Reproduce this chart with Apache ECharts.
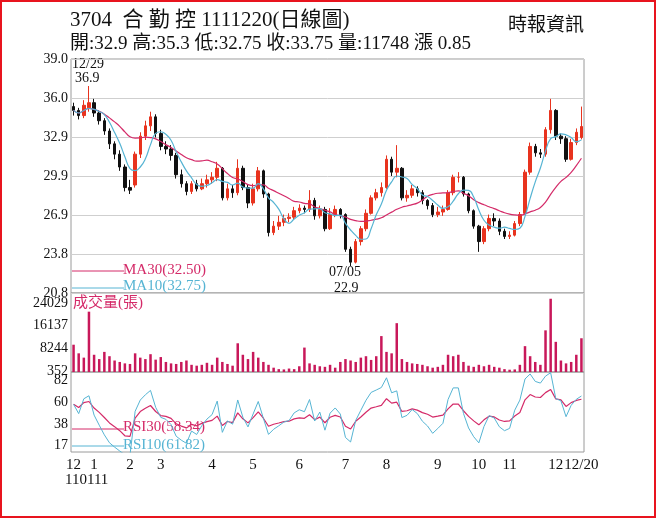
<!DOCTYPE html>
<html>
<head>
<meta charset="utf-8">
<script src="https://cdn.jsdelivr.net/npm/echarts@6/dist/echarts.min.js"></script>
<style>
  html, body { margin: 0; padding: 0; background: #fff; }
  #main { width: 652px; height: 514px; border: 2px solid #e8141e; }
</style>
</head>
<body>
<div id="main"></div>
<script>
// 日K 資料 (open, close, low, high)
var opens = [35.3,35.0,34.6,35.2,35.6,34.8,34.2,33.4,32.4,31.6,
  30.6,29.0,29.2,31.6,33.0,33.8,34.5,33.2,32.2,32.0,
  31.5,30.0,29.3,28.7,29.3,28.9,29.3,29.6,29.8,30.5,
  28.2,28.9,28.6,30.5,29.0,27.8,28.9,30.3,28.5,25.5,
  26.0,26.3,26.6,26.7,27.2,27.4,27.3,28.0,26.8,27.3,
  25.8,26.9,27.3,26.9,24.2,23.2,24.8,25.8,27.0,28.2,
  28.6,29.0,31.2,30.2,30.5,28.2,28.4,28.9,28.6,28.0,
  27.6,26.9,27.1,27.3,28.6,29.8,29.8,28.5,27.2,26.0,
  24.8,25.8,26.6,26.4,25.6,25.2,25.3,26.2,27.0,30.2,
  32.2,31.7,31.6,33.5,35.0,33.0,32.8,31.2,32.5,32.9]
var closes = [35.0,34.6,35.4,35.6,34.8,34.2,33.4,32.4,31.6,30.6,
  29.0,28.8,31.6,33.0,33.8,34.5,33.2,32.2,32.0,31.5,
  30.0,29.3,28.7,29.3,28.9,29.3,29.6,29.8,30.5,28.2,
  28.9,28.6,30.5,29.0,27.8,28.9,30.3,28.5,25.5,26.0,
  26.3,26.6,26.7,27.2,27.4,27.3,28.0,26.8,27.3,25.8,
  26.9,27.3,26.9,24.2,23.2,24.8,25.8,27.0,28.2,28.6,
  29.0,31.2,30.2,30.5,28.2,28.4,28.9,28.6,28.0,27.6,
  26.9,27.1,27.3,28.6,29.8,29.8,28.5,27.2,26.0,24.8,
  25.8,26.6,26.4,25.6,25.2,25.3,26.2,26.9,30.2,32.2,
  31.7,31.6,33.5,35.0,33.0,32.8,31.2,32.5,33.3,33.75]
var lows = [34.6,34.3,34.4,34.9,34.5,33.9,33.1,32.0,31.2,30.3,
  28.7,28.5,29.0,31.3,32.7,33.4,32.9,31.9,31.6,31.1,
  29.7,29.0,28.4,28.5,28.7,28.8,29.0,29.3,29.5,28.0,
  28.0,28.2,28.4,28.8,27.4,27.6,28.7,28.2,25.2,25.3,
  25.7,26.0,26.3,26.5,27.0,27.0,27.1,26.5,26.6,25.6,
  25.7,26.7,26.6,24.0,22.9,23.1,24.5,25.6,26.9,28.0,
  28.3,28.9,29.9,29.8,28.0,27.9,28.2,28.3,27.7,27.3,
  26.7,26.7,26.8,27.2,28.4,29.4,28.3,27.0,25.8,24.0,
  24.6,25.6,26.0,25.3,25.0,25.0,25.2,26.0,26.9,30.0,
  31.4,31.3,31.4,33.2,32.7,32.4,31.0,31.1,32.3,32.75]
var highs = [35.6,35.2,35.8,36.9,35.9,35.0,34.4,33.6,32.6,31.9,
  30.8,29.6,31.8,33.3,34.2,34.9,34.7,33.5,32.6,32.3,
  31.7,30.4,29.5,29.5,29.6,29.7,30.0,30.2,31.0,30.6,
  29.3,29.2,31.2,30.7,29.2,29.3,30.6,30.4,28.6,26.4,
  26.8,26.9,27.0,27.5,27.7,27.6,28.8,28.2,27.6,27.5,
  27.4,27.6,27.4,27.0,24.4,25.0,26.0,27.3,28.4,28.9,
  29.4,31.5,31.4,32.3,30.6,28.8,29.2,29.1,28.8,28.1,
  27.8,27.5,27.6,28.8,30.0,30.2,29.9,28.6,27.3,26.1,
  26.0,26.9,27.0,26.6,25.8,25.6,26.4,27.1,30.4,32.5,
  32.4,32.0,33.7,35.9,35.1,33.2,33.0,32.8,33.6,35.3]
// 成交量(張)
var volumes = [9500,6500,5000,21000,6000,4500,7000,5500,4000,3500,
  3000,2800,6500,5000,4500,6200,4300,5200,3500,3000,
  2800,3500,4000,2500,2200,2500,3200,2500,5000,3500,
  2800,2200,10000,6000,4500,7000,5000,3500,2500,1500,
  1000,900,1200,1000,2000,8500,3000,2500,2000,1800,
  2500,1500,3500,4500,4000,3500,5000,5500,4200,5500,
  12500,7000,6500,17000,4500,3500,3000,2800,2500,2000,
  1500,1800,2500,6000,5500,6000,3500,2200,1800,2500,
  2000,2500,1800,1500,1000,800,900,2500,9000,5500,
  3500,2500,14500,25500,10500,4000,3000,3500,6000,11748]
// 月份刻度
var monthIdx = [0,4,11,17,27,35,44,53,61,71,79,85,94,99]
var monthText = ['12','1','2','3','4','5','6','7','8','9','10','11','12','12/20']
var volTicks = [352,8244,16137,24029]
var rsiTicks = [17,38,60,82]

var RED = '#d42a68', BLUE = '#56b4d3', SERIF = 'Liberation Serif, Noto Sans CJK TC'

function ma(n) {
  return closes.map(function (c, i) {
    var s = 0, k = 0
    for (var j = Math.max(0, i - n + 1); j <= i; j++) { s += closes[j]; k++ }
    return +(s / k).toFixed(2)
  })
}
// Wilder RSI, seeded with a slightly bullish start
function rsi(n) {
  var up = 0.3, dn = 0.22, out = []
  for (var i = 0; i < closes.length; i++) {
    if (i > 0) {
      var d = closes[i] - closes[i - 1]
      up = (up * (n - 1) + Math.max(d, 0)) / n
      dn = (dn * (n - 1) + Math.max(-d, 0)) / n
    }
    out.push(+(100 * up / (up + dn)).toFixed(2))
  }
  return out
}

var cats = closes.map(function (c, i) {
  var k = monthIdx.indexOf(i)
  return k >= 0 ? monthText[k] : ''
})
var kdata = closes.map(function (c, i) { return [opens[i], c, lows[i], highs[i]] })

var chart = echarts.init(document.getElementById('main'))
var grids = [
  { left: 69, width: 513, top: 57, height: 234 },
  { left: 69, width: 513, top: 291, height: 79 },
  { left: 69, width: 513, top: 370, height: 80 }
]
grids.forEach(function (g) { g.show = true; g.borderColor = '#9a9a9a'; g.borderWidth = 1 })
function xa(i, show) {
  return {
    type: 'category', gridIndex: i, data: cats, boundaryGap: true,
    axisLine: { show: false }, axisTick: { show: false }, splitLine: { show: false },
    axisLabel: show ? {
      show: true, interval: function (idx, v) { return v !== '' },
      color: '#111', fontFamily: SERIF, fontSize: 15, margin: 6
    } : { show: false }
  }
}
var lab = { color: '#111', fontFamily: SERIF, fontSize: 14, margin: 3 }
var option = {
  animation: false,
  grid: grids,
  xAxis: [xa(0, false), xa(1, false), xa(2, true)],
  yAxis: [
    {
      type: 'value', gridIndex: 0, min: 20.8, max: 39.0, interval: 18.2 / 6,
      axisLine: { show: false }, axisTick: { show: false },
      axisLabel: Object.assign({ formatter: function (v) { return v.toFixed(1) } }, lab),
      splitLine: { lineStyle: { color: '#cfcfcf' } }
    },
    {
      type: 'value', gridIndex: 1, min: 0, max: 27500,
      axisLine: { show: false }, axisTick: { show: false }, splitLine: { show: false },
      axisLabel: Object.assign({ customValues: volTicks, formatter: function (v) { return String(v) } }, lab)
    },
    {
      type: 'value', gridIndex: 2, min: 10, max: 90,
      axisLine: { show: false }, axisTick: { show: false }, splitLine: { show: false },
      axisLabel: Object.assign({ customValues: rsiTicks }, lab)
    }
  ],
  series: [
    {
      type: 'candlestick', xAxisIndex: 0, yAxisIndex: 0, data: kdata, barWidth: 3,
      itemStyle: { color: '#e8331e', color0: '#111', borderColor: '#e8331e', borderColor0: '#111', borderWidth: 1 }
    },
    { type: 'line', xAxisIndex: 0, yAxisIndex: 0, data: ma(15), symbol: 'none', smooth: true, lineStyle: { color: RED, width: 1.2 } },
    { type: 'line', xAxisIndex: 0, yAxisIndex: 0, data: ma(5), symbol: 'none', smooth: true, lineStyle: { color: BLUE, width: 1.2 } },
    { type: 'bar', xAxisIndex: 1, yAxisIndex: 1, data: volumes, barWidth: 2.5, itemStyle: { color: '#c8185a' } },
    { type: 'line', xAxisIndex: 2, yAxisIndex: 2, data: rsi(14), symbol: 'none', lineStyle: { color: RED, width: 1.2 } },
    { type: 'line', xAxisIndex: 2, yAxisIndex: 2, data: rsi(5), symbol: 'none', lineStyle: { color: BLUE, width: 1 } }
  ],
  graphic: [
    { type: 'text', left: 68, top: 8, style: { text: '3704  合 勤 控 1111220(日線圖)', font: '21px ' + SERIF, fill: '#111' } },
    { type: 'text', left: 68, top: 33, style: { text: '開:32.9 高:35.3 低:32.75 收:33.75 量:11748 漲 0.85', font: '19px ' + SERIF, fill: '#111' } },
    { type: 'text', left: 506, top: 15, style: { text: '時報資訊', font: '19px ' + SERIF, fill: '#111' } },
    { type: 'text', left: 70, top: 55, style: { text: '12/29', font: '14px ' + SERIF, fill: '#111' } },
    { type: 'text', left: 73, top: 69, style: { text: '36.9', font: '14px ' + SERIF, fill: '#111' } },
    { type: 'text', left: 327, top: 263, style: { text: '07/05', font: '14px ' + SERIF, fill: '#111' } },
    { type: 'text', left: 332, top: 279, style: { text: '22.9', font: '14px ' + SERIF, fill: '#111' } },
    { type: 'line', shape: { x1: 70, y1: 269, x2: 122, y2: 269 }, style: { stroke: RED, lineWidth: 1 } },
    { type: 'text', left: 121, top: 261, style: { text: 'MA30(32.50)', font: '15px ' + SERIF, fill: RED } },
    { type: 'line', shape: { x1: 70, y1: 286, x2: 122, y2: 286 }, style: { stroke: BLUE, lineWidth: 1 } },
    { type: 'text', left: 121, top: 277, style: { text: 'MA10(32.75)', font: '15px ' + SERIF, fill: BLUE } },
    { type: 'text', left: 71, top: 294, style: { text: '成交量(張)', font: '15px ' + SERIF, fill: RED } },
    { type: 'line', shape: { x1: 70, y1: 427, x2: 122, y2: 427 }, style: { stroke: RED, lineWidth: 1 } },
    { type: 'text', left: 121, top: 418, style: { text: 'RSI30(58.34)', font: '15px ' + SERIF, fill: RED } },
    { type: 'line', shape: { x1: 70, y1: 444, x2: 122, y2: 444 }, style: { stroke: BLUE, lineWidth: 1 } },
    { type: 'text', left: 121, top: 436, style: { text: 'RSI10(61.82)', font: '15px ' + SERIF, fill: BLUE } },
    { type: 'text', left: 63, top: 471, style: { text: '110111', font: '15px ' + SERIF, fill: '#111' } }
  ]
}
chart.setOption(option)
</script>
</body>
</html>
